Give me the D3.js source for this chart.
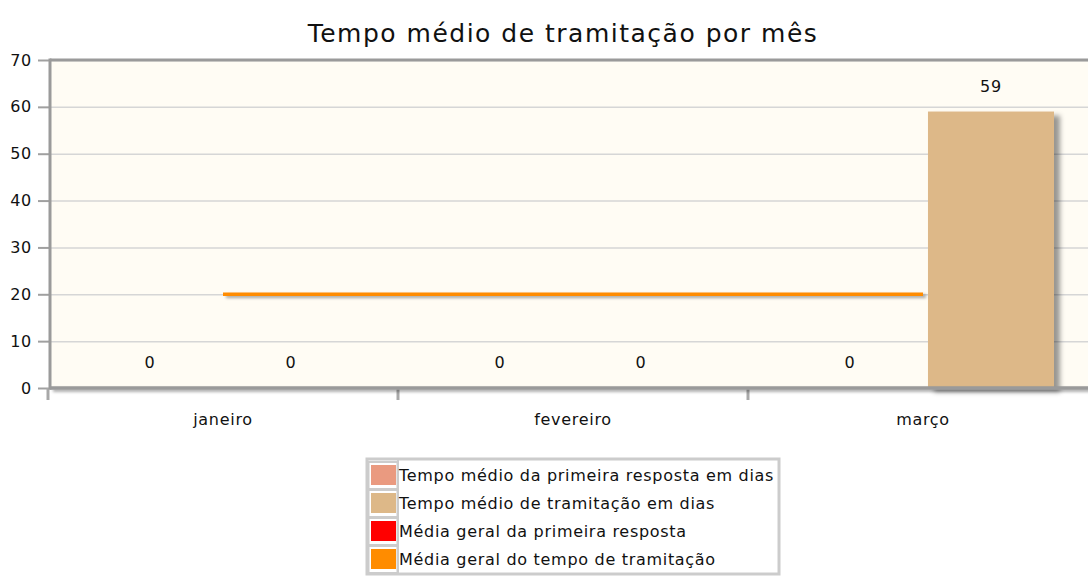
<!DOCTYPE html>
<html>
<head>
<meta charset="utf-8">
<script src="https://cdn.jsdelivr.net/npm/d3@7"></script>
<style>
  body { margin: 0; background: #fff; font-family: "DejaVu Sans", sans-serif; }
  svg text { fill: #111; font-family: "DejaVu Sans", sans-serif; }
</style>
</head>
<body>
<div id="chart"></div>
<script>
// chart data
var months = ["janeiro", "fevereiro", "março"];
var primeiraResposta = [0, 0, 0];
var tramitacao = [0, 0, 59];
var mediaPrimeira = [0, 0, 0];
var mediaTramitacao = [20, 20, 20];
var yTicks = [0, 10, 20, 30, 40, 50, 60, 70];
var seriesNames = ["Tempo médio da primeira resposta em dias", "Tempo médio de tramitação em dias",
  "Média geral da primeira resposta", "Média geral do tempo de tramitação"];
var seriesColors = ["#ea9a80", "#ddb888", "#ff0000", "#ff8c00"];

var svgWidth = 1088;
var svgHeight = 577;
var margin = { top: 60, right: -10, bottom: 189, left: 50 };
var width = svgWidth - margin.left - margin.right;
var height = svgHeight - margin.top - margin.bottom;

var svg = d3.select("#chart").append("svg")
  .attr("width", svgWidth)
  .attr("height", svgHeight);

// drop shadows (user space so flat lines still render)
var defs = svg.append("defs");
var shadow = defs.append("filter").attr("id", "shadow")
  .attr("filterUnits", "userSpaceOnUse")
  .attr("x", -100).attr("y", -100).attr("width", 1400).attr("height", 800);
shadow.append("feDropShadow").attr("dx", 3).attr("dy", 2)
  .attr("stdDeviation", 1.5).attr("flood-color", "#000").attr("flood-opacity", 0.35);

var barShadow = defs.append("filter").attr("id", "barShadow")
  .attr("filterUnits", "userSpaceOnUse")
  .attr("x", -100).attr("y", -100).attr("width", 1400).attr("height", 800);
barShadow.append("feDropShadow").attr("dx", 6).attr("dy", 4)
  .attr("stdDeviation", 2.5).attr("flood-color", "#000").attr("flood-opacity", 0.4);

svg.append("text")
  .attr("x", 563).attr("y", 42)
  .attr("text-anchor", "middle")
  .style("font-size", "25px")
  .style("letter-spacing", "1.5px")
  .text("Tempo médio de tramitação por mês");

var chartGroup = svg.append("g")
  .attr("transform", `translate(${margin.left}, ${margin.top})`);

var x = d3.scaleBand().domain(months).range([-2, width]);
var xSub = d3.scaleBand().domain([0, 1]).range([39, 306]).paddingInner(0.106);
var y = d3.scaleLinear().domain([0, 70]).range([height, 0]);

// plot background
chartGroup.append("rect")
  .attr("x", 0).attr("y", 0)
  .attr("width", width).attr("height", height)
  .attr("fill", "#fffcf4");

// gridlines
chartGroup.append("g")
  .call(d3.axisLeft(y).tickValues(yTicks).tickSize(-width).tickFormat(""))
  .call(g => g.select(".domain").remove())
  .selectAll("line").attr("stroke", "#d6d6d6").attr("stroke-width", 1.5);

// bars
var barData = [];
months.forEach(function(m, i) {
  barData.push({ month: m, s: 0, value: primeiraResposta[i] });
  barData.push({ month: m, s: 1, value: tramitacao[i] });
});

chartGroup.selectAll(".bar")
  .data(barData.filter(d => d.value > 0))
  .enter()
  .append("rect")
  .attr("class", "bar")
  .attr("x", d => x(d.month) + xSub(d.s))
  .attr("y", d => y(d.value))
  .attr("width", xSub.bandwidth())
  .attr("height", d => y(0) - y(d.value))
  .attr("fill", d => seriesColors[d.s])
  .attr("filter", "url(#barShadow)");

chartGroup.selectAll(".valueLabel")
  .data(barData)
  .enter()
  .append("text")
  .attr("class", "valueLabel")
  .attr("x", d => x(d.month) + xSub(d.s) + xSub.bandwidth() / 2)
  .attr("y", d => y(d.value) - 20)
  .attr("text-anchor", "middle")
  .style("font-size", "16px")
  .style("letter-spacing", "0.7px")
  .text(d => d.value);

// average lines
var line = d3.line()
  .x((d, i) => x(months[i]) + x.bandwidth() / 2)
  .y(d => y(d));

// red one sits at 0, hidden under the axis
chartGroup.append("path")
  .datum(mediaPrimeira)
  .attr("d", line)
  .attr("fill", "none")
  .attr("stroke", seriesColors[2])
  .attr("stroke-width", 2);

chartGroup.append("path")
  .datum(mediaTramitacao)
  .attr("d", line)
  .attr("fill", "none")
  .attr("stroke", seriesColors[3])
  .attr("stroke-width", 3.5)
  .attr("filter", "url(#shadow)");

// axes
var leftAxis = d3.axisLeft(y).tickValues(yTicks).tickSize(12).tickPadding(6);
var yAxisG = chartGroup.append("g")
  .call(leftAxis);
yAxisG.select(".domain").remove();
yAxisG.selectAll("line").attr("stroke", "#a0a0a0").attr("stroke-width", 2);
yAxisG.selectAll("text")
  .style("font-size", "16px").style("letter-spacing", "0.7px")
  .attr("fill", "#111");

var bottomAxis = d3.axisBottom(x).tickSize(0).tickPadding(26);
var xAxisG = chartGroup.append("g")
  .attr("transform", `translate(0, ${height})`)
  .call(bottomAxis);
xAxisG.select(".domain").remove();
xAxisG.selectAll("text")
  .style("font-size", "16px").style("letter-spacing", "0.7px")
  .attr("fill", "#111");

// category separators below the axis
chartGroup.selectAll(".catTick")
  .data(months)
  .enter()
  .append("line")
  .attr("class", "catTick")
  .attr("x1", d => x(d)).attr("x2", d => x(d))
  .attr("y1", height).attr("y2", height + 12)
  .attr("stroke", "#a8a8a8").attr("stroke-width", 3);

// frame lines
chartGroup.append("line")
  .attr("x1", 0).attr("x2", width).attr("y1", 0).attr("y2", 0)
  .attr("stroke", "#9a9a9a").attr("stroke-width", 3);
chartGroup.append("line")
  .attr("x1", 0).attr("x2", width).attr("y1", height).attr("y2", height)
  .attr("stroke", "#9a9a9a").attr("stroke-width", 3.5)
  .attr("filter", "url(#shadow)");
chartGroup.append("line")
  .attr("x1", 0).attr("x2", 0).attr("y1", -1.5).attr("y2", height + 1.5)
  .attr("stroke", "#9a9a9a").attr("stroke-width", 3);

// legend
var legend = svg.append("g").attr("transform", "translate(367, 459)");
legend.append("rect")
  .attr("x", 0).attr("y", 0).attr("width", 412).attr("height", 115)
  .attr("fill", "#fff").attr("stroke", "#cccccc").attr("stroke-width", 3);
legend.append("line")
  .attr("x1", 31).attr("x2", 31).attr("y1", 0).attr("y2", 115)
  .attr("stroke", "#cccccc").attr("stroke-width", 2);

var rows = legend.selectAll(".legendRow")
  .data(seriesNames)
  .enter()
  .append("g")
  .attr("class", "legendRow")
  .attr("transform", (d, i) => `translate(0, ${3 + i * 28})`);

rows.append("rect")
  .attr("x", 1.5).attr("y", 0)
  .attr("width", 29).attr("height", 27)
  .attr("fill", "#fff").attr("stroke", "#cccccc").attr("stroke-width", 2);

rows.append("rect")
  .attr("x", 4).attr("y", 3)
  .attr("width", 25).attr("height", 20)
  .attr("fill", (d, i) => seriesColors[i]);

rows.append("text")
  .attr("x", 32).attr("y", 19)
  .style("font-size", "16px")
  .style("letter-spacing", "0.7px")
  .text(d => d);
</script>
</body>
</html>
